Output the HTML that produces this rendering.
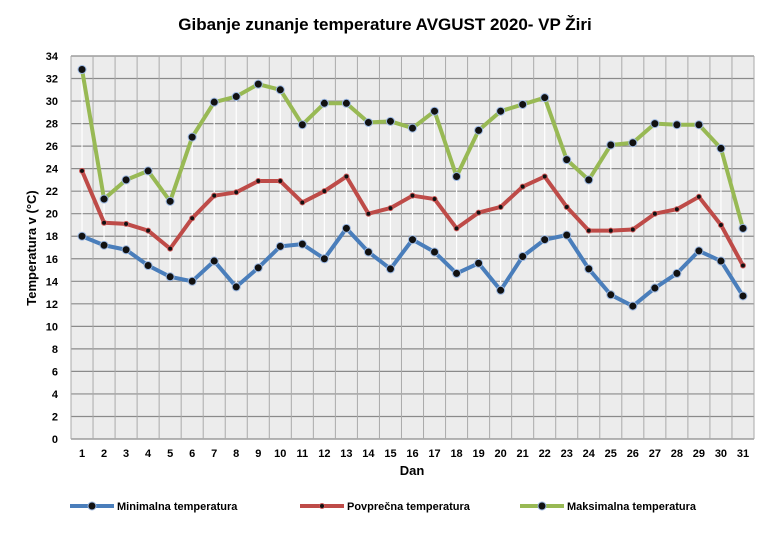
<!DOCTYPE html>
<html><head><meta charset="utf-8"><style>
body{margin:0;background:#fff;font-family:"Liberation Sans",sans-serif}
</style></head><body>
<svg id="c" width="770" height="532" xmlns="http://www.w3.org/2000/svg">
<text x="385" y="30" text-anchor="middle" font-size="17" font-weight="bold" fill="#000">Gibanje  zunanje  temperature AVGUST 2020- VP Žiri</text>
<rect x="71" y="56" width="683" height="383" fill="#ececec"/>
<g id="grid"></g><g id="drops"></g><g id="series"></g><g id="axes"></g>
<text transform="translate(36,248) rotate(-90)" text-anchor="middle" font-size="13" font-weight="bold">Temperatura v (°C)</text>
<text x="412" y="475" text-anchor="middle" font-size="13" font-weight="bold">Dan</text>
<g id="legend"></g>
</svg>
<script>
const days=[1,2,3,4,5,6,7,8,9,10,11,12,13,14,15,16,17,18,19,20,21,22,23,24,25,26,27,28,29,30,31];
const maxT=[32.8,21.3,23.0,23.8,21.1,26.8,29.9,30.4,31.5,31.0,27.9,29.8,29.8,28.1,28.2,27.6,29.1,23.3,27.4,29.1,29.7,30.3,24.8,23.0,26.1,26.3,28.0,27.9,27.9,25.8,18.7];
const avgT=[23.8,19.2,19.1,18.5,16.9,19.6,21.6,21.9,22.9,22.9,21.0,22.0,23.3,20.0,20.5,21.6,21.3,18.7,20.1,20.6,22.4,23.3,20.6,18.5,18.5,18.6,20.0,20.4,21.5,19.0,15.4];
const minT=[18.0,17.2,16.8,15.4,14.4,14.0,15.8,13.5,15.2,17.1,17.3,16.0,18.7,16.6,15.1,17.7,16.6,14.7,15.6,13.2,16.2,17.7,18.1,15.1,12.8,11.8,13.4,14.7,16.7,15.8,12.7];
const yTicks=[0,2,4,6,8,10,12,14,16,18,20,22,24,26,28,30,32,34];
const seriesNames=["Minimalna temperatura","Povprečna temperatura","Maksimalna temperatura"];
const NS="http://www.w3.org/2000/svg";
const L=71,R=754,T=56,B=439,bw=(R-L)/days.length;
const xs=i=>L+bw*(i+0.5), ys=v=>B-(v/34)*(B-T);
function mk(tag,at,parent){const e=document.createElementNS(NS,tag);for(const k in at)e.setAttribute(k,at[k]);document.getElementById(parent).appendChild(e);return e;}
yTicks.forEach(v=>{
 const l=mk('line',{x1:L,x2:R,y1:ys(v),y2:ys(v),stroke:'#8a8a8a','stroke-width':1.2},'grid');
 
 
 const t=mk('text',{x:L-13,y:ys(v)+4,'text-anchor':'end','font-size':11,'font-weight':'bold'},'axes');t.textContent=v;
 
 
});
for(let i=0;i<=days.length;i++){
 const l=mk('line',{x1:L+bw*i,x2:L+bw*i,y1:T,y2:B,stroke:'#aaa','stroke-width':1},'grid');
 
 
}
days.forEach((d,i)=>{
 const t=mk('text',{x:xs(i),y:457,'text-anchor':'middle','font-size':11,'font-weight':'bold'},'axes');t.textContent=d;
 
 
 const l=mk('line',{x1:xs(i),x2:xs(i),y1:ys(maxT[i]),y2:ys(minT[i]),stroke:'#fff','stroke-width':1.2},'drops');
 
 
});
const cols=['#4a7ebb','#be4b48','#98b954'];
[minT,avgT,maxT].forEach((arr,s)=>{
 const p=mk('polyline',{points:arr.map((v,i)=>xs(i)+','+ys(v)).join(' '),fill:'none',stroke:cols[s],'stroke-width':4,'stroke-linejoin':'round'},'series');
 
 
 arr.forEach((v,i)=>{
  const c=mk('circle',{cx:xs(i),cy:ys(v),r:s==1?2.5:4,fill:'#111',stroke:s==1?'#c55':'#9bb7e0','stroke-width':1},'series');
  
  
 });
});
const lx=[70,300,520];
seriesNames.forEach((n,s)=>{
 const l=mk('line',{x1:lx[s],x2:lx[s]+44,y1:506,y2:506,stroke:cols[s],'stroke-width':4},'legend');
 
 
 const c=mk('circle',{cx:lx[s]+22,cy:506,r:s==1?2.5:4,fill:'#111',stroke:s==1?'#c55':'#9bb7e0'},'legend');
 
 
 const t=mk('text',{x:lx[s]+47,y:510,'font-size':11,'font-weight':'bold'},'legend');t.textContent=n;
 
 
});
</script>
</body></html>
